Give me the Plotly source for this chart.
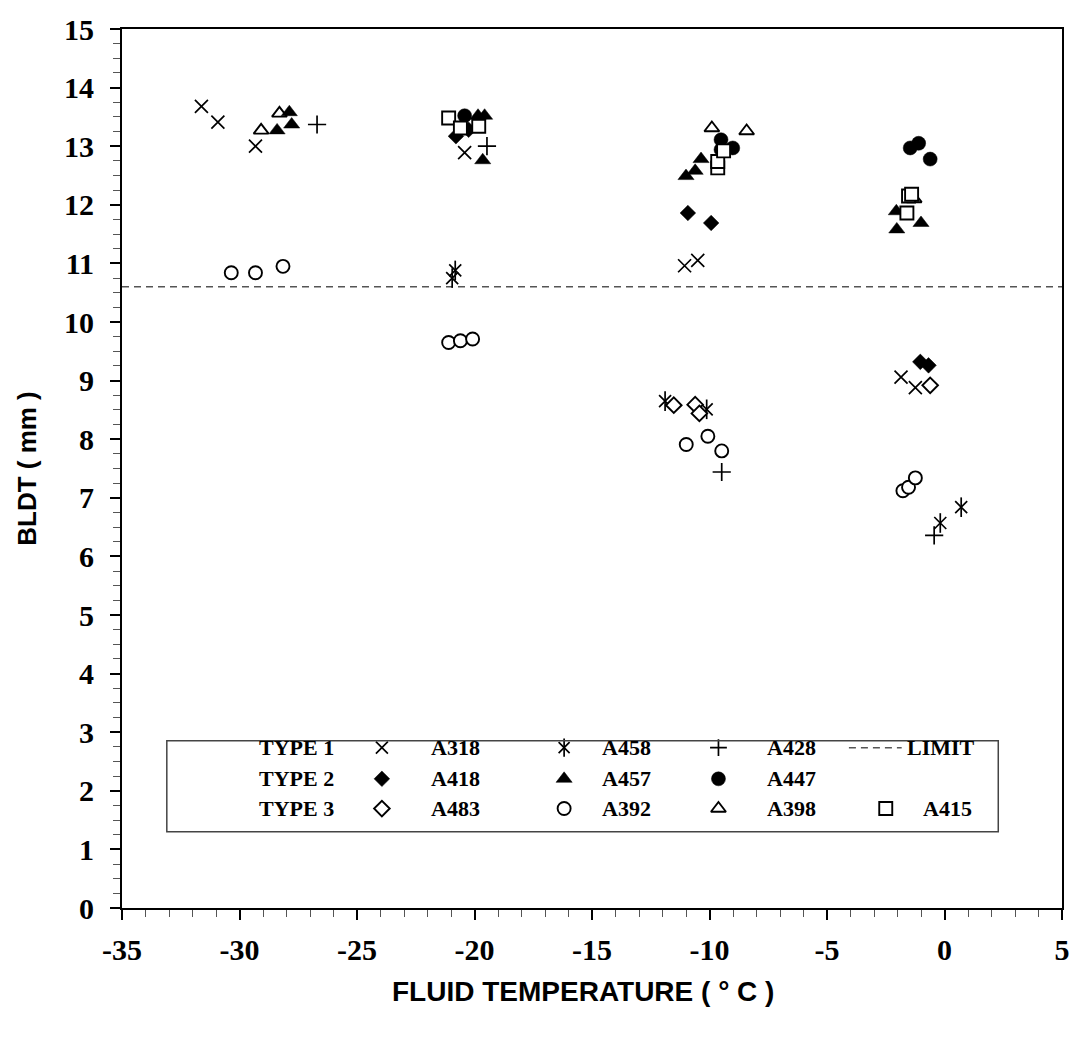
import plotly.graph_objects as go

# ---------------- data ----------------
A318_x = [-31.62, -30.92, -29.32, -20.42, -11.06, -10.50, -1.85, -1.24]
A318_y = [13.68, 13.41, 13.00, 12.89, 10.96, 11.05, 9.06, 8.88]

A458_x = [-20.95, -20.82, -11.89, -10.12, -0.18, 0.71]
A458_y = [10.75, 10.88, 8.65, 8.51, 6.57, 6.84]

A428_x = [-26.70, -19.47, -9.48, -0.44]
A428_y = [13.37, 13.00, 7.44, 6.36]

A418_x = [-20.79, -20.25, -10.92, -9.93, -1.03, -0.68]
A418_y = [13.17, 13.28, 11.86, 11.69, 9.32, 9.26]

A457_x = [-27.88, -28.40, -27.78, -19.85, -19.57, -19.65, -11.00, -10.61, -10.36, -2.05, -2.03, -1.00]
A457_y = [13.58, 13.27, 13.37, 13.52, 13.52, 12.76, 12.49, 12.58, 12.78, 11.89, 11.58, 11.69]

A447_x = [-20.42, -9.51, -9.51, -9.01, -1.46, -1.10, -0.61]
A447_y = [13.52, 13.11, 12.94, 12.97, 12.97, 13.05, 12.78]

A483_x = [-11.52, -10.61, -10.43, -0.61]
A483_y = [8.58, 8.59, 8.44, 8.92]

A392_x = [-30.35, -29.32, -28.15, -21.10, -20.60, -20.08, -10.99, -10.07, -9.48, -1.77, -1.53, -1.24]
A392_y = [10.84, 10.84, 10.95, 9.65, 9.68, 9.71, 7.91, 8.05, 7.80, 7.12, 7.18, 7.34]

A398_x = [-28.30, -29.08, -9.90, -8.42, -1.29]
A398_y = [13.56, 13.27, 13.31, 13.26, 12.10]

A415_x = [-21.10, -20.60, -19.82, -9.65, -9.65, -9.40, -1.53, -1.40, -1.60]
A415_y = [13.48, 13.31, 13.34, 12.63, 12.74, 12.92, 12.15, 12.18, 11.86]

LIMIT_Y = 10.6
X_RANGE = [-35, 5]
Y_RANGE = [0, 15]
X_TICKS = [-35, -30, -25, -20, -15, -10, -5, 0, 5]
Y_TICKS = list(range(0, 16))

TYPE_LABELS = ["TYPE 1", "TYPE 2", "TYPE 3"]
X_TITLE = "FLUID TEMPERATURE ( ° C )"
Y_TITLE = "BLDT ( mm )"

# ---------------- figure ----------------
fig = go.Figure()

BLACK = "black"
LW = 1.7


def add_series(x, y, symbol, size, fill, name, lw=LW):
    fig.add_trace(go.Scatter(
        x=x, y=y, mode="markers", name=name, showlegend=False,
        marker=dict(symbol=symbol, size=size, color=fill,
                    line=dict(color=BLACK, width=lw)),
        hoverinfo="x+y+name"))


# limit line
fig.add_trace(go.Scatter(x=X_RANGE, y=[LIMIT_Y, LIMIT_Y], mode="lines",
                         name="LIMIT", showlegend=False,
                         line=dict(color="#555555", width=1.5, dash="7px,5px")))

add_series(A318_x, A318_y, "x-thin-open", 13, BLACK, "A318")
add_series(A458_x, A458_y, "x-thin-open", 12, BLACK, "A458")
add_series(A458_x, A458_y, "line-ns-open", 14, BLACK, "A458")
add_series(A428_x, A428_y, "cross-thin-open", 13, BLACK, "A428")
add_series(A483_x, A483_y, "diamond", 12, "white", "A483", 1.9)
add_series(A392_x, A392_y, "circle", 13, "white", "A392", 1.9)
add_series(A418_x, A418_y, "diamond", 12, BLACK, "A418", 0.5)
add_series(A398_x, A398_y, "triangle-up", 13, "white", "A398", 1.9)
add_series(A457_x, A457_y, "triangle-up", 14, BLACK, "A457", 0.5)
add_series(A447_x, A447_y, "circle", 14, BLACK, "A447", 0.5)
add_series(A415_x, A415_y, "square", 13, "white", "A415", 1.9)

# ---------------- legend (drawn manually on an overlay 0..1 axis) ----------------
L, R, T, B = 122, 1066, 20, 908
W, H = R - L, B - T


def fx(px):
    return (px - L) / W


def fy(py):
    return (B - py) / H


rows = [746, 777.5, 807.5]
col_m = [383, 566, 721, 889]
col_t = [430, 602, 768]

legend_entries = [
    (0, 0, "x-thin-open", 12, BLACK, LW, "A318"),
    (0, 1, "x-thin-open", 11, BLACK, LW, "A458"),
    (0, 2, "cross-thin-open", 12, BLACK, LW, "A428"),
    (1, 0, "diamond", 12, BLACK, 0.5, "A418"),
    (1, 1, "triangle-up", 14, BLACK, 0.5, "A457"),
    (1, 2, "circle", 14, BLACK, 0.5, "A447"),
    (2, 0, "diamond", 12, "white", 1.9, "A483"),
    (2, 1, "circle", 13, "white", 1.9, "A392"),
    (2, 2, "triangle-up", 13, "white", 1.9, "A398"),
]

for r, c, sym, sz, fill, lw, lab in legend_entries:
    fig.add_trace(go.Scatter(
        x=[fx(col_m[c])], y=[fy(rows[r])], xaxis="x2", yaxis="y2",
        mode="markers", showlegend=False, hoverinfo="skip",
        marker=dict(symbol=sym, size=sz, color=fill, line=dict(color=BLACK, width=lw))))
    if lab == "A458":
        fig.add_trace(go.Scatter(
            x=[fx(col_m[c])], y=[fy(rows[r])], xaxis="x2", yaxis="y2",
            mode="markers", showlegend=False, hoverinfo="skip",
            marker=dict(symbol="line-ns-open", size=13, color=BLACK,
                        line=dict(color=BLACK, width=LW))))

fig.add_trace(go.Scatter(
    x=[fx(col_m[3])], y=[fy(rows[2])], xaxis="x2", yaxis="y2",
    mode="markers", showlegend=False, hoverinfo="skip",
    marker=dict(symbol="square", size=13, color="white", line=dict(color=BLACK, width=1.9))))
fig.add_trace(go.Scatter(
    x=[fx(852), fx(905)], y=[fy(rows[0]), fy(rows[0])], xaxis="x2", yaxis="y2",
    mode="lines", showlegend=False, hoverinfo="skip",
    line=dict(color="#555555", width=1.5, dash="7px,5px")))

LEG_FONT = dict(family="Liberation Serif", size=22, color="black", weight="bold")
annotations = []
for i, t in enumerate(TYPE_LABELS):
    annotations.append(dict(x=fx(258), y=fy(rows[i]), xref="paper", yref="paper",
                            text=t, showarrow=False, xanchor="left",
                            yanchor="middle", font=LEG_FONT))
for r, c, sym, sz, fill, lw, lab in legend_entries:
    annotations.append(dict(x=fx(col_t[c]), y=fy(rows[r]), xref="paper", yref="paper",
                            text=lab, showarrow=False, xanchor="left",
                            yanchor="middle", font=LEG_FONT))
annotations.append(dict(x=fx(908), y=fy(rows[0]), xref="paper", yref="paper",
                        text="LIMIT", showarrow=False, xanchor="left",
                        yanchor="middle", font=LEG_FONT))
annotations.append(dict(x=fx(924), y=fy(rows[2]), xref="paper", yref="paper",
                        text="A415", showarrow=False, xanchor="left",
                        yanchor="middle", font=LEG_FONT))

TICK_FONT = dict(family="Liberation Serif", size=30, color="black", weight="bold")
TITLE_FONT = dict(family="Liberation Sans", size=26, color="black", weight="bold")
XTITLE_FONT = dict(family="Liberation Sans", size=28, color="black", weight="bold")

# x-axis title placed as annotation below tick labels
annotations.append(dict(x=fx(585), y=fy(992), xref="paper", yref="paper",
                        text=X_TITLE, showarrow=False, xanchor="center",
                        yanchor="middle", font=XTITLE_FONT))

shapes = [dict(type="rect", xref="paper", yref="paper",
               x0=fx(167), x1=fx(1002), y0=fy(831), y1=fy(739),
               line=dict(color="#444444", width=1.5))]

fig.update_layout(
    width=1082, height=1043,
    margin=dict(l=L, r=1082 - R, t=T, b=1043 - B),
    paper_bgcolor="white", plot_bgcolor="white",
    showlegend=False,
    annotations=annotations, shapes=shapes,
    xaxis=dict(range=X_RANGE, tickvals=X_TICKS, ticktext=[str(v) for v in X_TICKS],
               ticks="outside", ticklen=10, tickwidth=2, tickcolor="black",
               minor=dict(dtick=1, ticks="outside", ticklen=7, tickwidth=1.2, tickcolor="#555555"),
               showline=True, linewidth=2, linecolor="black", mirror=True,
               showgrid=False, zeroline=False, tickfont=TICK_FONT, ticklabelstandoff=4),
    yaxis=dict(range=Y_RANGE, tickvals=Y_TICKS, ticktext=[str(v) for v in Y_TICKS],
               ticks="outside", ticklen=10, tickwidth=2, tickcolor="black",
               minor=dict(dtick=0.25, ticks="outside", ticklen=7, tickwidth=1.2, tickcolor="#555555"),
               showline=True, linewidth=2, linecolor="black", mirror=True,
               showgrid=False, zeroline=False, tickfont=TICK_FONT, ticklabelstandoff=10,
               title=dict(text=Y_TITLE, font=TITLE_FONT, standoff=20)),
    xaxis2=dict(overlaying="x", range=[0, 1], visible=False, fixedrange=True),
    yaxis2=dict(overlaying="y", range=[0, 1], visible=False, fixedrange=True),
)

fig.write_html("out.html")
